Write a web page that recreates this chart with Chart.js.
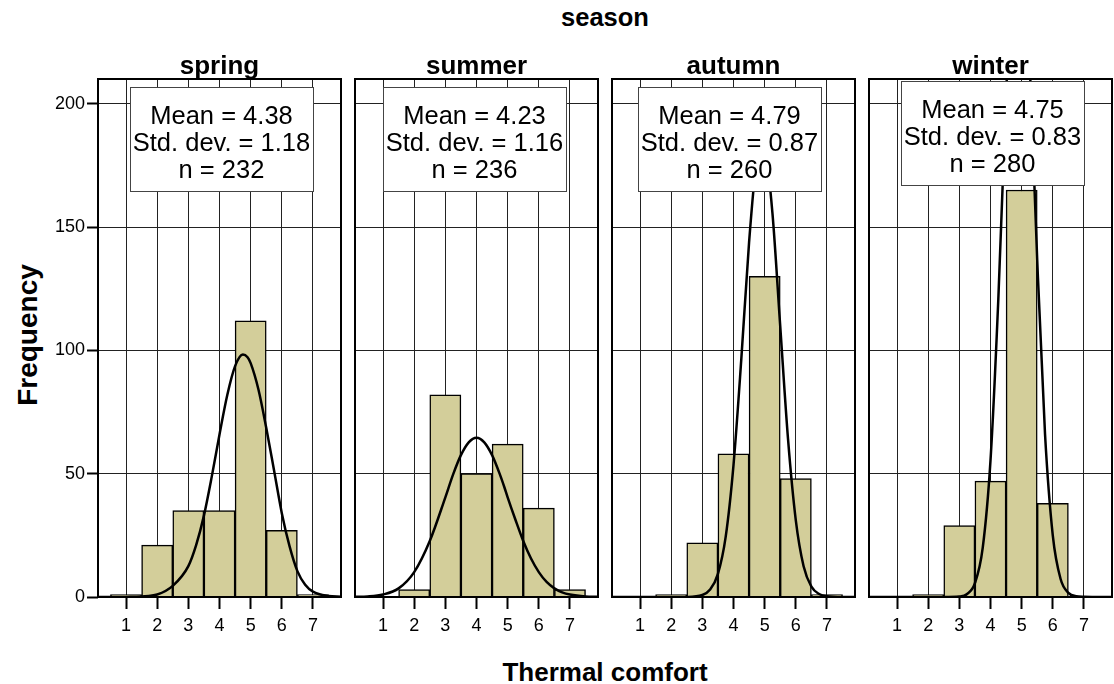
<!DOCTYPE html>
<html>
<head>
<meta charset="utf-8">
<script src="https://cdn.jsdelivr.net/npm/chart.js@4.4.1/dist/chart.umd.min.js"></script>
<style>
  body { margin: 0; background: #fff; }
  #wrap { position: relative; width: 1114px; height: 684px; overflow: hidden; font-family: "Liberation Sans", Arial, sans-serif; }
  #wrap canvas { position: absolute; top: 0; }
  .lbl { position: absolute; transform: translate(-50%, -50%); font-weight: bold; color: #000; white-space: nowrap; line-height: 1; }
</style>
</head>
<body>
<div id="wrap">
  <div class="lbl" style="left:605px; top:18px; font-size:25.5px">season</div>
  <div class="lbl" style="left:605px; top:672px; font-size:26px">Thermal comfort</div>
  <div class="lbl" style="left:28px; top:335px; font-size:28px; transform:translate(-50%,-50%) rotate(-90deg)">Frequency</div>
</div>
<script>
// data
const seasons = ['spring', 'summer', 'autumn', 'winter'];
const comfortLevels = [1, 2, 3, 4, 5, 6, 7];
const springCounts = [1, 21, 35, 35, 112, 27, 1];
const summerCounts = [0, 3, 82, 50, 62, 36, 3];
const autumnCounts = [0, 1, 22, 58, 130, 48, 1];
const winterCounts = [0, 1, 29, 47, 165, 38, 0];

const means = [4.38, 4.23, 4.79, 4.75];
const stdDevs = [1.18, 1.16, 0.87, 0.83];
const nValues = [232, 236, 260, 280];

// normal curve
const curveX = [0.1, 0.5, 1, 1.5, 2, 2.5, 3, 3.25, 3.5, 3.75, 4, 4.25, 4.5, 4.75, 4.9, 5, 5.25, 5.5, 5.75, 6, 6.25, 6.5, 6.75, 7, 7.5, 7.9];
const springCurve = [0, 0, 0.05, 0.2, 1.0, 4.5, 12.5, 21, 33, 48.7, 65.9, 81.9, 93.6, 98.3, 97.2, 94.8, 84.1, 68.6, 51.4, 34, 20.5, 10.5, 5, 2.2, 0.4, 0.1];
const summerCurve = [0.06, 0.2, 1.0, 3.5, 10.1, 22.7, 40.4, 49.7, 57.5, 62.7, 64.6, 62.7, 57.5, 49.7, 44.3, 40.4, 31.3, 22.7, 15.6, 10.1, 6.1, 3.5, 1.9, 1.0, 0.2, 0.06];
const autumnCurve = [0, 0, 0, 0, 0, 0.03, 0.8, 3, 9.4, 24.5, 53.5, 96.3, 143.8, 178, 185, 182.8, 155.6, 109.8, 64.1, 31.1, 12.5, 4.2, 1.2, 0.3, 0, 0];
const winterCurve = [0, 0, 0, 0, 0, 0, 0.2, 1.2, 5.6, 19.9, 55.4, 120.4, 203.3, 267.7, 280, 274.5, 219, 136.4, 66.1, 24.9, 7.3, 1.7, 0.3, 0.1, 0, 0];

const yTicks = [0, 50, 100, 150, 200];

const histCounts = [springCounts, summerCounts, autumnCounts, winterCounts];
const curves = [springCurve, summerCurve, autumnCurve, winterCurve];

// layout
const panelLeft = [98, 355, 612, 869];
const panelWidth = 243;
const boxOffset = [[32, 8], [28, 8], [26, 8], [32, 2]];
const fontFam = '"Liberation Sans", Arial, sans-serif';
Chart.defaults.font.family = fontFam;

const statBox = {
  id: 'statBox',
  afterDatasetsDraw(chart, args, opts) {
    const { ctx, chartArea } = chart;
    const x = Math.round(chartArea.left + opts.dx);
    const y = Math.round(chartArea.top + opts.dy);
    const w = 183, h = 104;
    ctx.save();
    ctx.fillStyle = '#fff';
    ctx.fillRect(x, y, w, h);
    ctx.strokeStyle = '#444';
    ctx.lineWidth = 1;
    ctx.strokeRect(x + 0.5, y + 0.5, w, h);
    ctx.fillStyle = '#000';
    ctx.font = '25.5px ' + fontFam;
    ctx.textAlign = 'center';
    ctx.textBaseline = 'middle';
    opts.lines.forEach((t, k) => ctx.fillText(t, x + w / 2, y + 30 + k * 27));
    ctx.restore();
  }
};

const frame = {
  id: 'frame',
  afterDraw(chart) {
    const { ctx, chartArea } = chart;
    ctx.save();
    ctx.strokeStyle = '#000';
    ctx.lineWidth = 2;
    ctx.strokeRect(chartArea.left, chartArea.top, chartArea.right - chartArea.left, chartArea.bottom - chartArea.top);
    ctx.restore();
  }
};

const wrap = document.getElementById('wrap');

seasons.forEach((season, i) => {
  const yW = i === 0 ? 98 : 4;
  const cv = document.createElement('canvas');
  cv.width = yW + panelWidth + 4;
  cv.height = 684;
  cv.style.left = (panelLeft[i] - yW) + 'px';
  wrap.appendChild(cv);

  const lab = document.createElement('div');
  lab.className = 'lbl';
  lab.style.left = (panelLeft[i] + panelWidth / 2) + 'px';
  lab.style.top = '65px';
  lab.style.fontSize = '26px';
  lab.textContent = season;
  wrap.appendChild(lab);

  new Chart(cv, {
    type: 'bar',
    data: {
      datasets: [
        {
          type: 'line',
          data: curveX.map((x, k) => ({ x: x, y: curves[i][k] })),
          borderColor: '#000',
          borderWidth: 2.5,
          pointRadius: 0,
          cubicInterpolationMode: 'monotone',
          fill: false,
          order: 0
        },
        {
          type: 'bar',
          data: comfortLevels.map((x, k) => ({ x: x, y: histCounts[i][k] })),
          backgroundColor: '#d3ce9a',
          borderColor: '#000',
          borderWidth: 1.5,
          barPercentage: 1,
          categoryPercentage: 1,
          order: 1
        }
      ]
    },
    options: {
      responsive: false,
      animation: false,
      layout: { padding: { left: 0, right: 4, top: 79, bottom: 47 } },
      plugins: {
        legend: { display: false },
        tooltip: { enabled: false },
        statBox: {
          dx: boxOffset[i][0],
          dy: boxOffset[i][1],
          lines: ['Mean = ' + means[i].toFixed(2), 'Std. dev. = ' + stdDevs[i].toFixed(2), 'n = ' + nValues[i]]
        }
      },
      scales: {
        x: {
          type: 'linear',
          min: 0.1,
          max: 7.9,
          offset: false,
          afterBuildTicks: s => { s.ticks = comfortLevels.map(v => ({ value: v })); },
          afterFit: s => { s.height = 40; },
          grid: { color: '#222', lineWidth: 1, offset: false, tickLength: 12, tickColor: '#000', tickWidth: 2 },
          border: { display: false },
          ticks: { color: '#000', font: { size: 18 }, padding: 6, maxRotation: 0 }
        },
        y: {
          min: 0,
          max: 210,
          afterBuildTicks: s => { s.ticks = yTicks.map(v => ({ value: v })); },
          afterFit: s => { s.width = yW; },
          grid: { color: '#222', lineWidth: 1, drawTicks: i === 0, tickLength: 11, tickColor: '#000', tickWidth: 2 },
          border: { display: false },
          ticks: { display: i === 0, color: '#000', font: { size: 18 }, padding: 2 }
        }
      }
    },
    plugins: [statBox, frame]
  });
});
</script>
</body>
</html>
